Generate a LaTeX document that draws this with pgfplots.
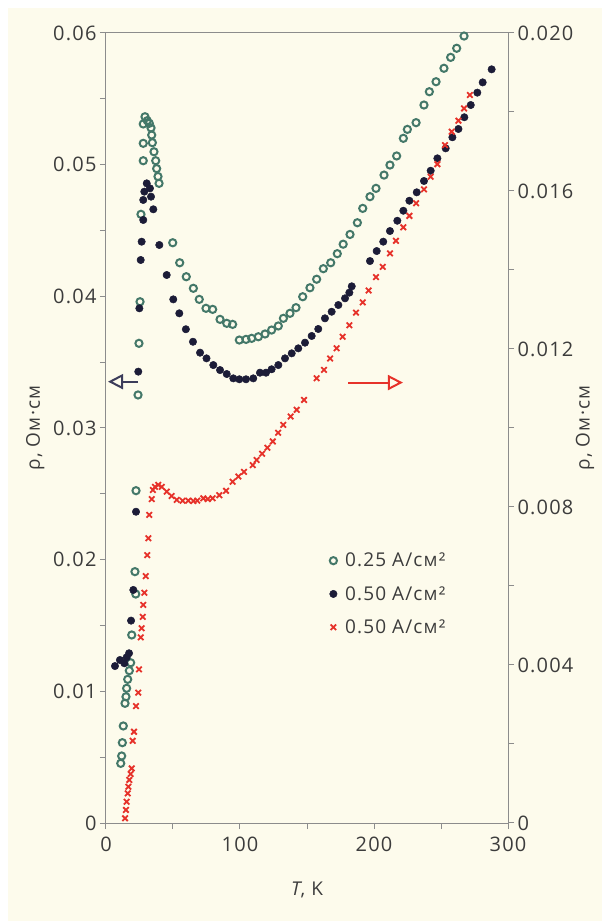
\documentclass[border=0pt]{standalone}
\usepackage{fontspec}
\setmainfont{Open Sans}[LetterSpace=6]
\usepackage{pgfplots}
\pgfplotsset{compat=1.18}
\usetikzlibrary{arrows.meta}
\definecolor{bgbeige}{RGB}{253,251,236}
\definecolor{tealc}{RGB}{68,120,105}
\definecolor{navyc}{RGB}{28,28,55}
\definecolor{redc}{RGB}{230,50,42}
\definecolor{axgray}{RGB}{140,140,140}
\definecolor{txtgray}{RGB}{60,60,60}
\definecolor{arrgray}{RGB}{60,60,90}
\pgfplotsset{
  tealstyle/.style={only marks, mark=o, mark size=3.6bp, mark options={draw=tealc, line width=2bp}},
  navystyle/.style={only marks, mark=*, mark size=3.7bp, mark options={draw=navyc, fill=navyc, line width=0.5bp}},
  redstyle/.style={only marks, mark=x, mark size=3.9bp, mark options={draw=redc, line width=1.8bp}},
  common/.style={
    scale only axis, width=402bp, height=790bp,
    xmin=0, xmax=300,
    axis line style={axgray, line width=1bp},
    tick style={axgray, line width=1bp},
    major tick length=6bp, minor tick length=6bp,
    tick align=outside,
    scaled y ticks=false,
    tick label style={font=\fontsize{20bp}{24bp}\selectfont, text=txtgray},
    /pgf/number format/assume math mode=true,
  },
}
\begin{document}
\begin{tikzpicture}
\fill[white] (-106bp,-98bp) rectangle (496bp,823bp);
\fill[bgbeige] (-98bp,-98bp) rectangle (496bp,815bp);
\begin{axis}[common,
  ymin=0, ymax=0.06,
  xtick={0,100,200,300}, xticklabels={0,100,200,300},
  minor xtick={50,150,250},
  ytick={0,0.01,0.02,0.03,0.04,0.05,0.06},
  yticklabels={0,0.01,0.02,0.03,0.04,0.05,0.06},
  minor ytick={0.005,0.015,0.025,0.035,0.045,0.055},
  xtick pos=bottom, ytick pos=left,
  xticklabel style={yshift=-4bp},
  xlabel={\textit{T}, K},
  ylabel={ρ, Ом·см},
  every axis x label/.style={at={(axis description cs:0.5,-0.0848)}, anchor=center,
    font=\fontsize{19bp}{23bp}\selectfont, text=txtgray},
  every axis y label/.style={at={(axis description cs:-0.176,0.5)}, rotate=90, anchor=center,
    font=\fontsize{19bp}{23bp}\selectfont, text=txtgray},
]
\addplot[tealstyle] coordinates {
(11.0,0.00453) (11.7,0.00509) (12.2,0.00610) (12.9,0.00737) (14.2,0.00909)
(14.9,0.00959) (15.4,0.01023) (16.2,0.01091) (17.4,0.01157) (18.4,0.01217)
(19.2,0.01428) (22.2,0.01739) (21.6,0.01909) (22.4,0.02524) (23.9,0.03251)
(24.6,0.03643) (25.4,0.03959) (26.1,0.04623) (27.8,0.05030) (27.8,0.05162)
(27.8,0.05309) (29.1,0.05364) (30.8,0.05334) (32.3,0.05314) (33.6,0.05279)
(34.1,0.05225) (34.6,0.05167) (35.8,0.05098) (37.1,0.05030) (37.8,0.04970)
(38.8,0.04910) (39.6,0.04858) (49.8,0.04407) (55.0,0.04255) (59.9,0.04149)
(65.2,0.04061) (69.6,0.03977) (74.6,0.03909) (79.6,0.03901) (85.1,0.03825)
(90.1,0.03795) (94.5,0.03787) (99.5,0.03668) (104.5,0.03673) (108.7,0.03681)
(113.7,0.03693) (118.7,0.03714) (123.6,0.03744) (128.6,0.03775) (132.4,0.03833)
(137.3,0.03871) (141.8,0.03914) (146.8,0.03997) (152.2,0.04065) (157.2,0.04130)
(162.2,0.04210) (167.7,0.04255) (172.6,0.04324) (177.0,0.04396) (182.1,0.04470)
(187.6,0.04559) (191.6,0.04668) (197.0,0.04757) (201.5,0.04820) (207.5,0.04921)
(211.9,0.04997) (216.9,0.05066) (221.9,0.05200) (224.9,0.05268) (231.4,0.05319)
(237.3,0.05453) (241.3,0.05554) (246.3,0.05630) (252.2,0.05732) (257.2,0.05815)
(261.7,0.05884) (267.2,0.05977)
};
\addplot[navystyle] coordinates {
(6.7,0.01192) (10.4,0.01238) (13.7,0.01213) (15.4,0.01258) (17.2,0.01289)
(18.7,0.01537) (20.4,0.01770) (22.4,0.02364) (24.1,0.03428) (24.9,0.03909)
(25.9,0.04276) (26.6,0.04415) (27.8,0.04580) (27.8,0.04732) (28.6,0.04795)
(30.4,0.04858) (32.8,0.04820) (33.6,0.04757) (35.3,0.04661) (39.8,0.04390)
(45.3,0.04162) (50.2,0.03977) (54.7,0.03871) (59.6,0.03750) (64.9,0.03655)
(70.2,0.03572) (75.0,0.03529) (80.1,0.03478) (85.1,0.03440) (90.1,0.03410)
(95.0,0.03377) (99.5,0.03370) (104.5,0.03370) (109.9,0.03377) (114.9,0.03420)
(119.4,0.03420) (123.6,0.03446) (128.6,0.03478) (133.6,0.03529) (138.6,0.03567)
(143.5,0.03605) (148.5,0.03648) (153.5,0.03699) (158.4,0.03752) (163.4,0.03833)
(168.4,0.03883) (173.4,0.03934) (178.4,0.03985) (181.6,0.04028) (183.4,0.04076)
(197.0,0.04268) (202.0,0.04344) (206.9,0.04415) (211.9,0.04496) (217.4,0.04574)
(221.9,0.04650) (226.4,0.04726) (231.9,0.04790) (237.3,0.04876) (242.3,0.04954)
(247.3,0.05048) (253.5,0.05124) (258.5,0.05208) (263.0,0.05271) (267.4,0.05360)
(272.2,0.05453) (277.1,0.05547) (281.1,0.05625) (287.8,0.05724)
};
\draw[arrgray, line width=2bp, -{Triangle[open, length=15bp, width=15bp]}]
  (axis cs:24,0.03352) -- (axis cs:1.5,0.03352);
\draw[redc, line width=2bp, -{Triangle[open, length=15bp, width=15bp]}]
  (axis cs:180.6,0.03345) -- (axis cs:221.6,0.03345);
\end{axis}
\begin{axis}[common,
  ymin=0, ymax=0.02,
  hide x axis,
  axis y line*=right,
  ytick={0,0.004,0.008,0.012,0.016,0.020},
  yticklabels={0,0.004,0.008,0.012,0.016,0.020},
  minor ytick={0.002,0.006,0.010,0.014,0.018},
  ylabel={ρ, Ом·см},
  every axis y label/.style={at={(axis description cs:1.1915,0.5)}, rotate=90, anchor=center,
    font=\fontsize{19bp}{23bp}\selectfont, text=txtgray},
  legend style={draw=none, fill=none, at={(rel axis cs:0.5485,0.347)}, anchor=north west,
    font=\fontsize{19bp}{23bp}\selectfont, text=txtgray, row sep=14bp,
    /tikz/every odd column/.append style={column sep=6bp}},
  legend cell align=left,
  legend image code/.code={\draw[mark repeat=2,mark phase=2,#1] plot coordinates {(0cm,0cm) (0.15cm,0cm) (0.3cm,0cm)};},
]
\addlegendimage{tealstyle}
\addlegendentry{0.25 А/см²}
\addlegendimage{navystyle}
\addlegendentry{0.50 А/см²}
\addplot[redstyle] coordinates {
(14.2,0.00012) (14.9,0.00033) (15.4,0.00054) (16.2,0.00075) (16.7,0.00092)
(17.4,0.00109) (18.4,0.00124) (19.2,0.00138) (19.9,0.00208) (20.9,0.00231)
(22.4,0.00296) (24.1,0.00330) (24.6,0.00389) (25.9,0.00470) (26.6,0.00493)
(27.4,0.00522) (27.8,0.00552) (28.6,0.00583) (29.6,0.00625) (30.8,0.00678)
(31.6,0.00721) (32.3,0.00780) (34.1,0.00820) (35.0,0.00843) (36.6,0.00851)
(39.0,0.00856) (41.6,0.00851) (45.3,0.00839) (49.0,0.00828) (52.8,0.00818)
(57.2,0.00816) (61.4,0.00816) (65.2,0.00815) (68.1,0.00816) (72.6,0.00822)
(76.0,0.00820) (79.6,0.00822) (84.6,0.00830) (89.6,0.00841) (94.5,0.00864)
(98.8,0.00877) (103.0,0.00889) (109.5,0.00906) (112.4,0.00919) (116.5,0.00935)
(120.5,0.00950) (124.5,0.00966) (128.5,0.00988) (132.3,0.01008) (137.8,0.01029)
(142.3,0.01046) (147.8,0.01071) (157.2,0.01126) (162.7,0.01147) (167.2,0.01176)
(172.1,0.01202) (176.6,0.01231) (181.6,0.01260) (186.6,0.01292) (191.6,0.01318)
(196.0,0.01348) (201.5,0.01382) (206.5,0.01408) (211.9,0.01442) (216.4,0.01474)
(221.9,0.01508) (226.4,0.01537) (231.4,0.01569) (237.3,0.01604) (242.3,0.01636)
(247.3,0.01668) (253.0,0.01716) (258.0,0.01750) (263.0,0.01778) (267.2,0.01809)
(271.6,0.01843)
};
\addlegendentry{0.50 А/см²}
\end{axis}
\end{tikzpicture}
\end{document}
